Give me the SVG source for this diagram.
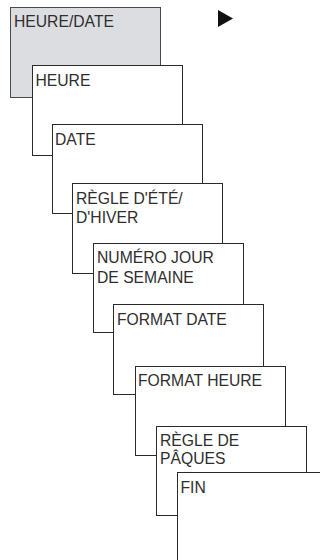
<svg xmlns="http://www.w3.org/2000/svg" width="320" height="560" viewBox="0 0 320 560">
<style>
.box{fill:#ffffff;stroke:#2b2b2b;stroke-width:1}
.first{fill:#dcdde0;stroke:#4a4a4a;stroke-width:1}
.lbl{font-family:"Liberation Sans",Arial,sans-serif;font-size:15.7px;fill:#2e2e2e}
</style>
<rect width="320" height="560" fill="#ffffff"/>
<polygon id="arrow" points="218,10 233,18.5 218,27" fill="#111111"/>
<g id="connectors"/>
<g id="n1"><rect class="first" x="10.5" y="7.5" width="150" height="90"/><text class="lbl" x="14" y="27">HEURE/DATE</text></g>
<g id="n2"><rect class="box" x="32.5" y="65.5" width="150" height="90"/><text class="lbl" x="35.5" y="86">HEURE</text></g>
<g id="n3"><rect class="box" x="52.5" y="124.5" width="150" height="89"/><text class="lbl" x="55" y="145">DATE</text></g>
<g id="n4"><rect class="box" x="72.5" y="183.5" width="150" height="90"/><text class="lbl" x="76" y="204">RÈGLE D'ÉTÉ/</text><text class="lbl" x="76" y="222.5">D'HIVER</text></g>
<g id="n5"><rect class="box" x="93.5" y="243.5" width="150" height="89"/><text class="lbl" x="97" y="262.5">NUMÉRO JOUR</text><text class="lbl" x="97" y="282.5">DE SEMAINE</text></g>
<g id="n6"><rect class="box" x="113.5" y="304.5" width="150" height="90"/><text class="lbl" x="117" y="325">FORMAT DATE</text></g>
<g id="n7"><rect class="box" x="135.5" y="366.5" width="150" height="89"/><text class="lbl" x="138" y="386">FORMAT HEURE</text></g>
<g id="n8"><rect class="box" x="156.5" y="426.5" width="150" height="89"/><text class="lbl" x="160" y="445.5">RÈGLE DE</text><text class="lbl" x="160" y="464">PÂQUES</text></g>
<g id="n9"><rect class="box" x="177.5" y="472.5" width="150" height="90"/><text class="lbl" x="180.5" y="492.5">FIN</text></g>
</svg>
